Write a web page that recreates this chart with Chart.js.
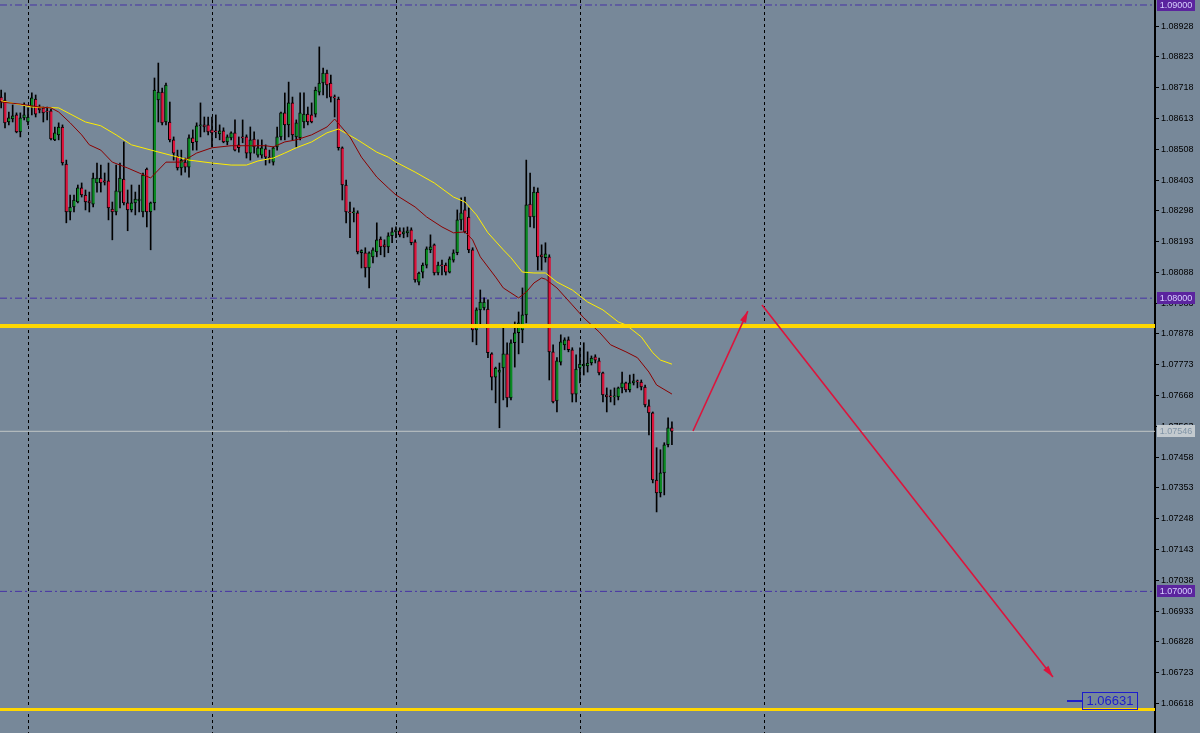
<!DOCTYPE html>
<html>
<head>
<meta charset="utf-8">
<script src="https://cdn.jsdelivr.net/npm/chart.js@4.4.0/dist/chart.umd.min.js"></script>
<style>
  html, body { margin: 0; padding: 0; background: #778899; }
  canvas { display: block; }
</style>
</head>
<body>
<canvas id="chart" width="1200" height="733"></canvas>
<script>
// candles, oldest first
const open = [
  1.08686, 1.08676, 1.08601, 1.08611, 1.08625, 1.08567, 1.08615, 1.08601, 1.08652, 1.08679,
  1.08649, 1.08649, 1.08639, 1.08639, 1.08540, 1.08557, 1.08584, 1.08457, 1.08294, 1.08311,
  1.08328, 1.08376, 1.08352, 1.08332, 1.08321, 1.08393, 1.08410, 1.08400, 1.08400, 1.08304,
  1.08294, 1.08362, 1.08406, 1.08325, 1.08301, 1.08325, 1.08332, 1.08294, 1.08440, 1.08294,
  1.08325, 1.08676, 1.08703, 1.08601, 1.08601, 1.08540, 1.08485, 1.08444, 1.08464, 1.08447,
  1.08547, 1.08533, 1.08588, 1.08591, 1.08591, 1.08574, 1.08571, 1.08560, 1.08571, 1.08533,
  1.08547, 1.08564, 1.08523, 1.08550, 1.08550, 1.08495, 1.08543, 1.08488, 1.08488, 1.08509,
  1.08481, 1.08464, 1.08516, 1.08550, 1.08632, 1.08591, 1.08666, 1.08550, 1.08547, 1.08601,
  1.08628, 1.08625, 1.08628, 1.08703, 1.08734, 1.08768, 1.08734, 1.08686, 1.08679, 1.08513,
  1.08386, 1.08294, 1.08291, 1.08291, 1.08155, 1.08155, 1.08103, 1.08141, 1.08158, 1.08202,
  1.08182, 1.08175, 1.08213, 1.08226, 1.08230, 1.08219, 1.08223, 1.08233, 1.08192, 1.08055,
  1.08089, 1.08113, 1.08165, 1.08182, 1.08086, 1.08113, 1.08113, 1.08089, 1.08130, 1.08155,
  1.08267, 1.08301, 1.08277, 1.08165, 1.07892, 1.07960, 1.07967, 1.07963, 1.07810, 1.07731,
  1.07748, 1.07762, 1.07810, 1.07660, 1.07848, 1.07882, 1.07892, 1.07943, 1.08321, 1.08277,
  1.08362, 1.08148, 1.08138, 1.08141, 1.07817, 1.07650, 1.07782, 1.07841, 1.07858, 1.07824,
  1.07673, 1.07762, 1.07769, 1.07769, 1.07779, 1.07800, 1.07786, 1.07745, 1.07670, 1.07667,
  1.07663, 1.07663, 1.07694, 1.07711, 1.07687, 1.07711, 1.07718, 1.07714, 1.07697, 1.07633,
  1.07609, 1.07380, 1.07336, 1.07404, 1.07500, 1.07558
];
const high = [
  1.08710, 1.08700, 1.08635, 1.08659, 1.08632, 1.08632, 1.08666, 1.08649, 1.08700, 1.08693,
  1.08659, 1.08652, 1.08652, 1.08645, 1.08584, 1.08598, 1.08591, 1.08471, 1.08352, 1.08352,
  1.08386, 1.08393, 1.08369, 1.08362, 1.08427, 1.08461, 1.08454, 1.08427, 1.08461, 1.08328,
  1.08454, 1.08461, 1.08533, 1.08369, 1.08386, 1.08362, 1.08386, 1.08427, 1.08444, 1.08328,
  1.08751, 1.08802, 1.08717, 1.08734, 1.08669, 1.08550, 1.08505, 1.08505, 1.08478, 1.08557,
  1.08574, 1.08598, 1.08666, 1.08618, 1.08618, 1.08618, 1.08625, 1.08591, 1.08581, 1.08557,
  1.08567, 1.08608, 1.08550, 1.08608, 1.08557, 1.08584, 1.08567, 1.08540, 1.08540, 1.08523,
  1.08505, 1.08516, 1.08584, 1.08635, 1.08700, 1.08737, 1.08686, 1.08608, 1.08700, 1.08700,
  1.08652, 1.08666, 1.08720, 1.08857, 1.08785, 1.08778, 1.08761, 1.08693, 1.08686, 1.08516,
  1.08403, 1.08328, 1.08308, 1.08298, 1.08165, 1.08172, 1.08158, 1.08172, 1.08257, 1.08209,
  1.08199, 1.08223, 1.08240, 1.08243, 1.08240, 1.08240, 1.08243, 1.08240, 1.08199, 1.08089,
  1.08120, 1.08175, 1.08216, 1.08185, 1.08123, 1.08130, 1.08120, 1.08141, 1.08165, 1.08301,
  1.08342, 1.08345, 1.08308, 1.08172, 1.07967, 1.08028, 1.08001, 1.07994, 1.07814, 1.07765,
  1.07779, 1.07909, 1.07848, 1.07858, 1.07919, 1.07953, 1.08035, 1.08471, 1.08427, 1.08379,
  1.08376, 1.08182, 1.08189, 1.08148, 1.07841, 1.07797, 1.07875, 1.07865, 1.07868, 1.07831,
  1.07807, 1.07831, 1.07848, 1.07817, 1.07803, 1.07807, 1.07796, 1.07748, 1.07694, 1.07687,
  1.07694, 1.07697, 1.07748, 1.07714, 1.07738, 1.07741, 1.07721, 1.07721, 1.07704, 1.07653,
  1.07612, 1.07490, 1.07483, 1.07507, 1.07592, 1.07578
];
const low = [
  1.08649, 1.08581, 1.08591, 1.08601, 1.08564, 1.08550, 1.08608, 1.08591, 1.08625, 1.08618,
  1.08632, 1.08601, 1.08608, 1.08540, 1.08537, 1.08540, 1.08454, 1.08257, 1.08267, 1.08294,
  1.08325, 1.08345, 1.08301, 1.08294, 1.08311, 1.08362, 1.08362, 1.08386, 1.08267, 1.08199,
  1.08284, 1.08308, 1.08318, 1.08230, 1.08294, 1.08284, 1.08294, 1.08277, 1.08243, 1.08165,
  1.08301, 1.08601, 1.08591, 1.08591, 1.08533, 1.08471, 1.08437, 1.08420, 1.08430, 1.08413,
  1.08505, 1.08505, 1.08550, 1.08567, 1.08557, 1.08516, 1.08547, 1.08540, 1.08530, 1.08523,
  1.08540, 1.08502, 1.08498, 1.08530, 1.08478, 1.08471, 1.08495, 1.08481, 1.08478, 1.08454,
  1.08461, 1.08454, 1.08505, 1.08540, 1.08540, 1.08550, 1.08540, 1.08516, 1.08540, 1.08581,
  1.08591, 1.08598, 1.08618, 1.08693, 1.08693, 1.08683, 1.08669, 1.08618, 1.08505, 1.08335,
  1.08257, 1.08206, 1.08260, 1.08151, 1.08103, 1.08072, 1.08035, 1.08120, 1.08141, 1.08148,
  1.08141, 1.08155, 1.08189, 1.08206, 1.08209, 1.08206, 1.08209, 1.08182, 1.08055, 1.08045,
  1.08069, 1.08103, 1.08155, 1.08079, 1.08079, 1.08079, 1.08079, 1.08086, 1.08123, 1.08148,
  1.08233, 1.08223, 1.08155, 1.07851, 1.07841, 1.07902, 1.07960, 1.07797, 1.07687, 1.07643,
  1.07558, 1.07653, 1.07629, 1.07653, 1.07765, 1.07810, 1.07848, 1.07916, 1.08243, 1.08240,
  1.08096, 1.08096, 1.08123, 1.07721, 1.07643, 1.07612, 1.07772, 1.07824, 1.07817, 1.07646,
  1.07646, 1.07711, 1.07738, 1.07748, 1.07772, 1.07779, 1.07738, 1.07646, 1.07612, 1.07646,
  1.07636, 1.07653, 1.07677, 1.07680, 1.07680, 1.07704, 1.07694, 1.07687, 1.07629, 1.07534,
  1.07370, 1.07271, 1.07322, 1.07329, 1.07493, 1.07500
];
const close = [
  1.08669, 1.08598, 1.08615, 1.08622, 1.08567, 1.08615, 1.08625, 1.08618, 1.08683, 1.08628,
  1.08642, 1.08632, 1.08635, 1.08543, 1.08564, 1.08584, 1.08461, 1.08294, 1.08311, 1.08335,
  1.08376, 1.08352, 1.08328, 1.08325, 1.08410, 1.08410, 1.08393, 1.08396, 1.08308, 1.08294,
  1.08366, 1.08410, 1.08325, 1.08301, 1.08325, 1.08338, 1.08338, 1.08420, 1.08294, 1.08325,
  1.08710, 1.08703, 1.08598, 1.08727, 1.08540, 1.08495, 1.08444, 1.08471, 1.08447, 1.08547,
  1.08530, 1.08588, 1.08591, 1.08584, 1.08567, 1.08564, 1.08567, 1.08571, 1.08533, 1.08550,
  1.08564, 1.08505, 1.08513, 1.08547, 1.08495, 1.08540, 1.08516, 1.08513, 1.08513, 1.08481,
  1.08478, 1.08513, 1.08550, 1.08632, 1.08591, 1.08666, 1.08557, 1.08598, 1.08632, 1.08628,
  1.08601, 1.08601, 1.08710, 1.08734, 1.08768, 1.08727, 1.08686, 1.08683, 1.08513, 1.08386,
  1.08294, 1.08291, 1.08294, 1.08158, 1.08162, 1.08103, 1.08155, 1.08165, 1.08199, 1.08175,
  1.08175, 1.08213, 1.08226, 1.08233, 1.08216, 1.08226, 1.08230, 1.08189, 1.08062, 1.08086,
  1.08113, 1.08168, 1.08175, 1.08086, 1.08113, 1.08110, 1.08089, 1.08134, 1.08155, 1.08267,
  1.08291, 1.08226, 1.08165, 1.07892, 1.07960, 1.07987, 1.07987, 1.07814, 1.07731, 1.07762,
  1.07755, 1.07810, 1.07660, 1.07848, 1.07882, 1.07916, 1.07943, 1.08318, 1.08277, 1.08362,
  1.08141, 1.08141, 1.08151, 1.07817, 1.07646, 1.07786, 1.07851, 1.07858, 1.07824, 1.07673,
  1.07758, 1.07775, 1.07775, 1.07779, 1.07796, 1.07789, 1.07745, 1.07670, 1.07663, 1.07663,
  1.07667, 1.07694, 1.07711, 1.07687, 1.07711, 1.07718, 1.07714, 1.07697, 1.07636, 1.07609,
  1.07380, 1.07336, 1.07404, 1.07500, 1.07558, 1.07546
];

// moving averages, sampled along the drawn lines (bar index, price)
const slowMaBars = [0, 8, 15, 22, 26, 30, 34, 40, 45, 49, 55, 60, 64, 67, 71, 74, 77, 81, 85, 88,
  93, 98, 101, 103, 108, 113, 118, 121, 124, 127, 131, 133, 136, 139, 142, 145, 149, 153, 157, 161,
  163, 167, 170, 172, 175];
const slowMa = [1.08673, 1.08652, 1.08649, 1.08601, 1.08588, 1.08557, 1.08523, 1.08502, 1.08485, 1.08471,
  1.08461, 1.08454, 1.08454, 1.08468, 1.08478, 1.08495, 1.08513, 1.08533, 1.08564, 1.08577,
  1.08540, 1.08498, 1.08481, 1.08464, 1.08430, 1.08393, 1.08345, 1.08328, 1.08284, 1.08223,
  1.08165, 1.08138, 1.08089, 1.08086, 1.08086, 1.08055, 1.08028, 1.07987, 1.07960, 1.07919,
  1.07909, 1.07868, 1.07814, 1.07789, 1.07775];
const fastMaBars = [0, 5, 10, 13, 15, 18, 21, 23, 26, 29, 33, 36, 39, 41, 43, 47, 51, 55, 60, 65,
  69, 71, 74, 77, 81, 85, 87, 91, 94, 98, 101, 103, 108, 111, 115, 118, 121, 123, 125, 129,
  131, 133, 135, 137, 139, 141, 142, 145, 149, 152, 156, 159, 163, 166, 169, 171, 175];
const fastMa = [1.08669, 1.08662, 1.08652, 1.08649, 1.08635, 1.08598, 1.08557, 1.08523, 1.08505, 1.08464,
  1.08444, 1.08427, 1.08410, 1.08437, 1.08464, 1.08464, 1.08495, 1.08513, 1.08520, 1.08520,
  1.08520, 1.08516, 1.08533, 1.08540, 1.08557, 1.08584, 1.08611, 1.08550, 1.08481, 1.08413,
  1.08376, 1.08352, 1.08311, 1.08277, 1.08243, 1.08223, 1.08226, 1.08199, 1.08141, 1.08072,
  1.08035, 1.08018, 1.08001, 1.08021, 1.08052, 1.08069, 1.08065, 1.08035, 1.07977, 1.07933,
  1.07885, 1.07841, 1.07817, 1.07797, 1.07748, 1.07704, 1.07673];

const yTicks = [1.06618, 1.06723, 1.06828, 1.06933, 1.07038, 1.07143, 1.07248, 1.07353, 1.07458,
  1.07563, 1.07668, 1.07773, 1.07878, 1.07983, 1.08088, 1.08193, 1.08298, 1.08403, 1.08508,
  1.08613, 1.08718, 1.08823, 1.08928];
const daySeparators = [7, 55, 103, 151, 199];
const roundLevels = [1.09000, 1.08000, 1.07000];
const goldLevels = [1.07905, 1.06597];
const lastPrice = 1.07546;
const arrowUp = [[180.5, 1.07547], [194.8, 1.07956]];
const arrowDown = [[198.5, 1.07977], [274.4, 1.06708]];
const target = 1.06631;
const targetBar = 282;

const X_MIN = -0.305, X_MAX = 301.03;
const Y_MIN = 1.06517, Y_MAX = 1.09017;

const bars = open.map((_, i) => i);
const bodyColors = bars.map(i => close[i] >= open[i] ? '#0a8a22' : '#dc143c');

function hline(v, color, width, dash, order) {
  return {
    type: 'line',
    data: [{x: X_MIN, y: v}, {x: X_MAX, y: v}],
    borderColor: color,
    borderWidth: width,
    borderDash: dash,
    pointRadius: 0,
    order: order
  };
}

const overlay = {
  id: 'overlay',
  beforeDraw(chart) {
    const c = chart.ctx;
    c.save();
    c.fillStyle = '#778899';
    c.fillRect(0, 0, chart.width, chart.height);
    c.restore();
  },
  beforeDatasetsDraw(chart) {
    const c = chart.ctx, x = chart.scales.x, a = chart.chartArea;
    c.save();
    c.strokeStyle = '#000';
    c.lineWidth = 1;
    c.setLineDash([3, 3]);
    daySeparators.forEach(i => {
      const px = Math.round(x.getPixelForValue(i)) + 0.5;
      c.beginPath();
      c.moveTo(px, a.top);
      c.lineTo(px, a.bottom);
      c.stroke();
    });
    c.restore();
  },
  afterDraw(chart) {
    const c = chart.ctx, x = chart.scales.x, y = chart.scales.y;
    c.save();

    // trade idea arrows
    c.strokeStyle = '#dc143c';
    c.fillStyle = '#dc143c';
    c.lineWidth = 1.6;
    [arrowUp, arrowDown].forEach(([from, to]) => {
      const x1 = x.getPixelForValue(from[0]), y1 = y.getPixelForValue(from[1]);
      const x2 = x.getPixelForValue(to[0]), y2 = y.getPixelForValue(to[1]);
      c.beginPath();
      c.moveTo(x1, y1);
      c.lineTo(x2, y2);
      c.stroke();
      const ang = Math.atan2(y2 - y1, x2 - x1);
      c.beginPath();
      c.moveTo(x2, y2);
      c.lineTo(x2 - 12 * Math.cos(ang - 0.28), y2 - 12 * Math.sin(ang - 0.28));
      c.lineTo(x2 - 12 * Math.cos(ang + 0.28), y2 - 12 * Math.sin(ang + 0.28));
      c.closePath();
      c.fill();
    });

    // price tags on the axis
    const tag = (v, bg, fg) => {
      const py = Math.round(y.getPixelForValue(v));
      const left = y.left + 2;
      c.fillStyle = bg;
      c.fillRect(left, py - 6, 38, 12);
      c.fillStyle = fg;
      c.font = '9px "Liberation Sans"';
      c.textAlign = 'center';
      c.textBaseline = 'middle';
      c.fillText(v.toFixed(5), left + 19, py + 0.5);
    };
    roundLevels.forEach(v => tag(v, '#5b249e', '#d8d0ff'));
    tag(lastPrice, '#c3cacf', '#8094a6');

    // target label
    const ty = Math.round(y.getPixelForValue(target));
    const bx = Math.round(x.getPixelForValue(targetBar));
    c.strokeStyle = '#1d1dcc';
    c.lineWidth = 2;
    c.beginPath();
    c.moveTo(bx - 15, ty + 1);
    c.lineTo(bx, ty + 1);
    c.stroke();
    c.lineWidth = 1;
    c.strokeRect(bx + 0.5, ty - 7.5, 55, 17);
    c.fillStyle = '#1d1dcc';
    c.font = '13px "Liberation Sans"';
    c.textAlign = 'center';
    c.textBaseline = 'middle';
    c.fillText(target.toFixed(5), bx + 28, ty + 1.5);

    c.restore();
  }
};

const ctx = document.getElementById('chart').getContext('2d');
const chart = new Chart(ctx, {
  type: 'bar',
  data: {
    datasets: [
      {
        label: 'wick',
        data: bars.map(i => ({x: i, y: [low[i], high[i]]})),
        backgroundColor: '#000',
        barThickness: 1,
        maxBarThickness: 1,
        grouped: false,
        order: 12
      },
      {
        label: 'body',
        data: bars.map(i => ({x: i, y: [open[i], close[i]]})),
        backgroundColor: bodyColors,
        borderColor: '#000',
        borderWidth: {left: 1, top: 1, bottom: 1, right: 0},
        borderSkipped: false,
        barThickness: 3,
        maxBarThickness: 3,
        minBarLength: 1,
        grouped: false,
        order: 11
      },
      {
        type: 'line',
        label: 'slow MA',
        data: slowMaBars.map((b, k) => ({x: b, y: slowMa[k]})),
        borderColor: '#ffee00',
        borderWidth: 1,
        pointRadius: 0,
        order: 3
      },
      {
        type: 'line',
        label: 'fast MA',
        data: fastMaBars.map((b, k) => ({x: b, y: fastMa[k]})),
        borderColor: '#8b0000',
        borderWidth: 1,
        pointRadius: 0,
        order: 2
      },
      ...roundLevels.map(v => hline(v, '#4733a6', 1, [7, 3, 2, 3], 20)),
      hline(lastPrice, '#c0c6c6', 1, [], 21),
      hline(goldLevels[0], '#ffd700', 4, [], 1),
      hline(goldLevels[1], '#ffd700', 3, [], 1)
    ]
  },
  options: {
    responsive: false,
    animation: false,
    layout: {padding: 0},
    plugins: {
      legend: {display: false},
      tooltip: {enabled: false}
    },
    scales: {
      x: {
        type: 'linear',
        min: X_MIN,
        max: X_MAX,
        offset: false,
        display: false
      },
      y: {
        type: 'linear',
        position: 'right',
        min: Y_MIN,
        max: Y_MAX,
        afterFit: s => {
          s.width = 45;
          s.paddingTop = 0;
          s.paddingBottom = 0;
        },
        afterBuildTicks: s => { s.ticks = yTicks.map(v => ({value: v})); },
        ticks: {
          color: '#000',
          autoSkip: false,
          padding: 2,
          font: {family: 'Liberation Sans', size: 9},
          callback: v => v.toFixed(5)
        },
        grid: {drawOnChartArea: false, drawTicks: true, tickLength: 4, color: '#000'},
        border: {display: true, color: '#000', width: 2}
      }
    }
  },
  plugins: [overlay]
});
</script>
</body>
</html>
